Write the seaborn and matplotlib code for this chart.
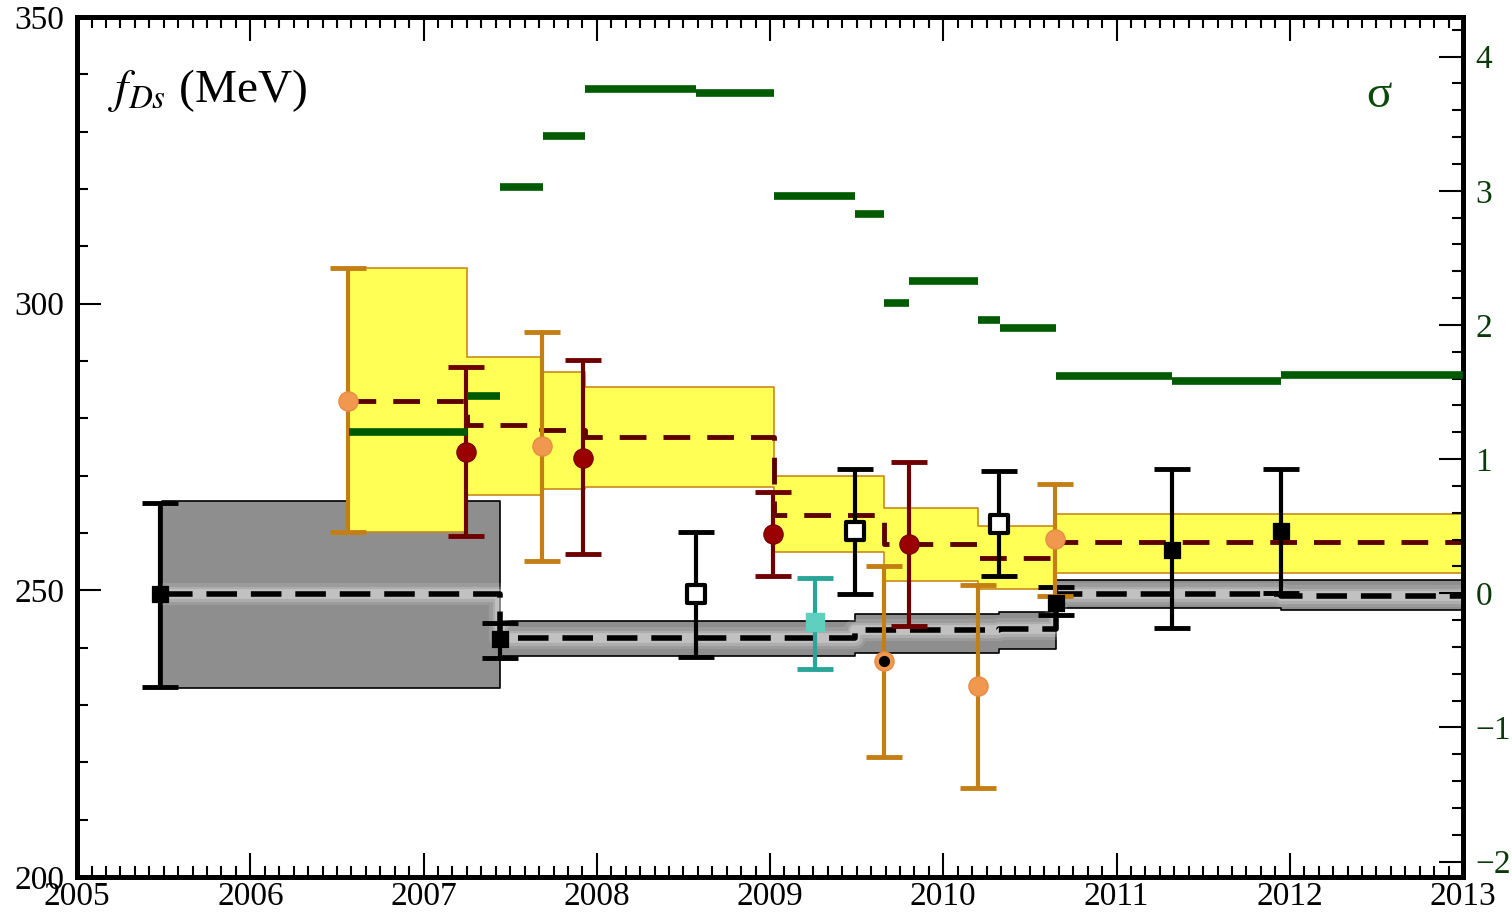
import matplotlib
matplotlib.use("Agg")
import matplotlib.pyplot as plt
import seaborn as sns
from matplotlib.ticker import MultipleLocator

# lattice average (grey band), step edges in years
lat_edges = [2005.49, 2007.44, 2009.49, 2010.32, 2010.65, 2011.95, 2013.0]
lat_avg = [249.3, 241.6, 243.0, 243.3, 249.3, 249.0]
lat_low = [232.9, 238.5, 239.1, 239.7, 247.0, 246.6]
lat_high = [265.6, 244.6, 245.8, 246.2, 251.8, 251.8]

# experimental average (yellow band)
exp_edges = [2006.57, 2007.25, 2007.68, 2007.93, 2009.02, 2009.66, 2010.20, 2010.645, 2013.0]
exp_avg = [283.1, 278.8, 277.9, 276.7, 263.2, 258.0, 255.7, 258.4]
exp_low = [260.2, 266.7, 267.7, 268.0, 256.6, 251.6, 250.2, 253.1]
exp_high = [306.2, 290.7, 288.1, 285.5, 270.0, 264.4, 261.2, 263.4]

# discrepancy between the two averages, in sigma (right axis)
sig_edges = [2006.57, 2007.25, 2007.44, 2007.69, 2007.93, 2008.57, 2009.02, 2009.49,
             2009.66, 2009.80, 2010.20, 2010.33, 2010.65, 2011.32, 2011.95, 2013.0]
sig_vals = [1.20, 1.47, 3.03, 3.41, 3.76, 3.73, 2.96, 2.83, 2.16, 2.33, 2.04, 1.98,
            1.62, 1.58, 1.63]

# lattice results, filled squares
latq_x = [2005.48, 2007.44, 2010.65, 2011.32, 2011.95]
latq_y = [249.3, 241.5, 247.8, 257.0, 260.3]
latq_lo = [233.2, 238.2, 245.7, 243.5, 249.6]
latq_hi = [265.3, 244.3, 250.6, 271.1, 271.2]

# lattice results, open squares
open_x = [2008.57, 2009.49, 2010.32]
open_y = [249.3, 260.3, 261.5]
open_lo = [238.3, 249.3, 252.5]
open_hi = [260.2, 271.1, 270.9]

# teal lattice point
teal_x = [2009.26]
teal_y = [244.5]
teal_lo = [236.2]
teal_hi = [252.2]

# experiment, orange circles
orng_x = [2006.565, 2007.685, 2009.66, 2010.20, 2010.645]
orng_y = [283.1, 275.1, 237.6, 233.3, 258.9]
orng_lo = [260.2, 255.2, 220.9, 215.6, 249.0]
orng_hi = [306.2, 295.1, 254.2, 251.0, 268.5]
dot_idx = 2  # orange point drawn with a black centre

# experiment, dark red circles
red_x = [2007.245, 2007.92, 2009.015, 2009.80]
red_y = [274.2, 273.1, 259.8, 258.0]
red_lo = [259.5, 256.3, 252.5, 243.7]
red_hi = [289.0, 290.1, 267.2, 272.4]


def steps(v):
    return v + [v[-1]]


def errs(y, lo, hi):
    return [[a - b for a, b in zip(y, lo)], [b - a for a, b in zip(y, hi)]]


sns.set_style("ticks", {'axes.edgecolor': 'black', 'xtick.color': 'black',
                        'ytick.color': 'black', 'text.color': 'black'})
plt.rcParams['font.family'] = ['Liberation Serif', 'DejaVu Serif']
plt.rcParams['mathtext.fontset'] = 'stix'

fig, ax = plt.subplots(figsize=(15.12, 9.16), dpi=100)
fig.subplots_adjust(left=0.051, right=0.9676, bottom=0.0426, top=0.9814)

# bands
ax.fill_between(lat_edges, steps(lat_low), steps(lat_high), step='post',
                facecolor='#8e8e8e', edgecolor='black', lw=1.2, zorder=1)
ax.fill_between(exp_edges, steps(exp_low), steps(exp_high), step='post',
                facecolor='#ffff55', edgecolor='#c88a1a', lw=1.2, zorder=2)

# soft glow round the lattice average
for w, a in [(16, 0.12), (11, 0.18), (7, 0.25)]:
    ax.plot(lat_edges, steps(lat_avg), drawstyle='steps-post', color='white',
            lw=w, alpha=a, solid_capstyle='butt', zorder=3)

# averages as dashed steps
sns.lineplot(x=lat_edges, y=steps(lat_avg), drawstyle='steps-post', estimator=None,
             color='black', lw=4, linestyle=(0, (5.5, 2.5)), ax=ax, zorder=4)
sns.lineplot(x=exp_edges, y=steps(exp_avg), drawstyle='steps-post', estimator=None,
             color='#5c0000', lw=3.5, linestyle=(0, (5.5, 3.5)), ax=ax, zorder=4)

# error bars
bar_kw = dict(fmt='none', elinewidth=3, capsize=13, capthick=3.5, zorder=5)
ax.errorbar(latq_x, latq_y, yerr=errs(latq_y, latq_lo, latq_hi), ecolor='black', **bar_kw)
ax.errorbar(open_x, open_y, yerr=errs(open_y, open_lo, open_hi), ecolor='black', **bar_kw)
ax.errorbar(teal_x, teal_y, yerr=errs(teal_y, teal_lo, teal_hi), ecolor='#2aa59a', **bar_kw)
ax.errorbar(orng_x, orng_y, yerr=errs(orng_y, orng_lo, orng_hi), ecolor='#c47f14', **bar_kw)
ax.errorbar(red_x, red_y, yerr=errs(red_y, red_lo, red_hi), ecolor='#6e0000', **bar_kw)

# markers
sns.scatterplot(x=latq_x, y=latq_y, marker='s', s=130, color='black',
                edgecolor='black', ax=ax, zorder=6)
sns.scatterplot(x=open_x, y=open_y, marker='s', s=170, color='white',
                edgecolor='black', linewidth=3, ax=ax, zorder=6)
sns.scatterplot(x=teal_x, y=teal_y, marker='s', s=170, color='#5fcfc0',
                edgecolor='#5fcfc0', ax=ax, zorder=6)
sns.scatterplot(x=orng_x, y=orng_y, marker='o', s=190, color='#f0984e',
                edgecolor='#e88a48', linewidth=1, ax=ax, zorder=6)
sns.scatterplot(x=[orng_x[dot_idx]], y=[orng_y[dot_idx]], marker='o', s=55,
                color='black', edgecolor='black', ax=ax, zorder=7)
sns.scatterplot(x=red_x, y=red_y, marker='o', s=190, color='#9a0000',
                edgecolor='#7a0000', linewidth=1, ax=ax, zorder=6)

ax.set_xlim(2005, 2013)
ax.set_ylim(200, 350)
ax.xaxis.set_major_locator(MultipleLocator(1))
ax.xaxis.set_minor_locator(MultipleLocator(1 / 12))
ax.yaxis.set_major_locator(MultipleLocator(50))
ax.yaxis.set_minor_locator(MultipleLocator(10))
ax.tick_params(axis='x', which='both', direction='in', top=True, bottom=True,
               width=1.5, labelsize=24, pad=3, colors='black')
ax.tick_params(axis='y', which='both', direction='in', left=True, right=False,
               width=1.5, labelsize=24, pad=9, colors='black')
ax.tick_params(which='major', length=17)
ax.tick_params(which='minor', length=8)
for sp in ax.spines.values():
    sp.set_linewidth(3.5)
    sp.set_color('black')
    sp.set_visible(True)

ax.text(0.022, 0.915, r'$f_{Ds}$ (MeV)', transform=ax.transAxes, fontsize=34,
        va='center', ha='left', color='black')

# sigma axis
ax2 = ax.twinx()
ax2.hlines(sig_vals, sig_edges[:-1], sig_edges[1:], colors='#005a00', lw=5.5, zorder=3)
ax2.set_ylim(-2.115, 4.295)
ax2.yaxis.set_major_locator(MultipleLocator(1))
ax2.yaxis.set_minor_locator(MultipleLocator(0.2))
ax2.tick_params(axis='y', which='both', direction='in', right=True, left=False,
                width=1.5, labelsize=24, pad=9, color='black', labelcolor='#0a3a0a')
ax2.tick_params(which='major', length=17)
ax2.tick_params(which='minor', length=8)
for sp in ax2.spines.values():
    sp.set_linewidth(3.5)
    sp.set_color('black')
    sp.set_visible(True)
ax2.set_xlim(2005, 2013)
ax2.text(0.939, 0.909, 'σ', transform=ax2.transAxes, fontsize=34, color='#0a4a0a',
         ha='center', va='center')

fig.savefig('out.png', dpi=100)
